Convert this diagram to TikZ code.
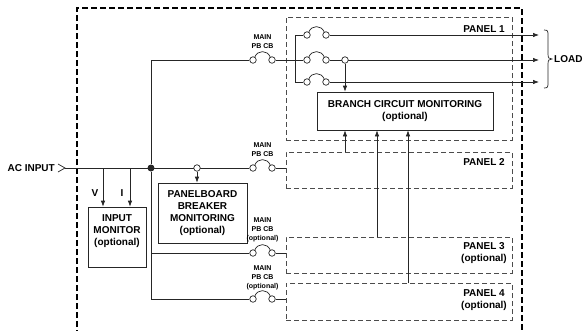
\documentclass[tikz,border=0pt]{standalone}
\usepackage{fontspec}
\setmainfont{Liberation Sans}
\usetikzlibrary{arrows.meta}

\newcommand{\cbreaker}[3]{%
  \node[term] (#1a) at (#2,#3) {};
  \node[term] (#1b) at (#2+19,#3) {};
  \draw[wire] (#1a.60) .. controls +(3,-7) and +(-3,-7) .. (#1b.120);
}

\begin{document}
\begin{tikzpicture}[x=1pt,y=-1pt,
  font=\bfseries\fontsize{10}{12}\selectfont,
  wire/.style={line width=0.7pt,black!85},
  sig/.style={line width=0.7pt,black!85,-{Latex[length=6pt,width=4.5pt]}},
  box/.style={draw=black!85,line width=0.7pt,align=center,inner sep=0pt},
  panel/.style={draw=black!70,dash pattern=on 5pt off 3pt,line width=0.6pt,inner sep=0pt},
  term/.style={circle,draw=black!85,fill=white,line width=0.7pt,minimum size=6.5pt,inner sep=0pt},
  cblabel/.style={font=\bfseries\fontsize{7}{9}\selectfont,align=center,inner sep=0pt}]

\useasboundingbox (0,0) rectangle (584,330);

\draw[line width=2.5pt,dash pattern=on 6pt off 3pt] (77,336) -- (77,8) -- (522,8) -- (522,336);

\node[panel,minimum width=226pt,minimum height=123pt] (p1) at (399,78.5) {};
\node[panel,minimum width=226pt,minimum height=36pt] (p2) at (399,170) {};
\node[panel,minimum width=226pt,minimum height=36pt] (p3) at (399,255) {};
\node[panel,minimum width=226pt,minimum height=37pt] (p4) at (399,301.5) {};

\node (p1t) at (484,29) {PANEL 1};
\node (p2t) at (484,162) {PANEL 2};
\node[align=center] (p3t) at (484,253) {PANEL 3\\(optional)};
\node[align=center] (p4t) at (484,300) {PANEL 4\\(optional)};

\node[box,minimum width=176pt,minimum height=38pt] (bcm) at (405,111) {BRANCH CIRCUIT MONITORING\\(optional)};
\node[box,minimum width=89pt,minimum height=60pt] (pbm) at (202.5,213) {PANELBOARD\\BREAKER\\MONITORING\\(optional)};
\node[box,minimum width=58pt,minimum height=60pt] (im) at (117,237) {};
\node[align=center,inner sep=0pt] (imt) at (117,231) {INPUT\\MONITOR\\(optional)};

\node[anchor=east,inner sep=0pt] (acin) at (55,168) {AC INPUT};
\coordinate (acp) at (65,168);
\draw[wire] (58,164) -- (acp) -- (58,172);

\cbreaker{cbA}{253}{60}
\cbreaker{cbB}{253}{168}
\cbreaker{cbC}{253}{253}
\cbreaker{cbD}{253}{299}
\cbreaker{q1}{307}{35}
\cbreaker{q2}{307}{60}
\cbreaker{q3}{307}{82}

\node[cblabel] (lA) at (262.5,41.5) {MAIN\\PB CB};
\node[cblabel] (lB) at (262.5,149.5) {MAIN\\PB CB};
\node[cblabel] (lC) at (262.5,229.5) {MAIN\\PB CB\\(optional)};
\node[cblabel] (lD) at (262.5,277.5) {MAIN\\PB CB\\(optional)};

\draw[wire] (acp) -- (cbBa.west);
\node[circle,fill=black!85,inner sep=0pt,minimum size=7pt] (jn) at (151,168) {};
\draw[wire] (jn) |- (cbAa.west);
\draw[wire] (jn) |- (cbCa.west);
\draw[wire] (jn) |- (cbDa.west);

\coordinate (vtap) at (103,168);
\coordinate (itap) at (130,168);
\draw[sig] (vtap) -- (vtap |- im.north);
\draw[sig] (itap) -- (itap |- im.north);
\node (vl) at (95,193) {V};
\node (il) at (122,193) {I};

\node[term] (s1) at (197,168) {};
\draw[sig] (s1) -- (s1 |- pbm.north);

\draw[wire] (cbBb.east) -- (cbBb -| p2.west);
\draw[wire] (cbCb.east) -- (cbCb -| p3.west);
\draw[wire] (cbDb.east) -- (cbDb -| p4.west);

\draw[wire] (cbAb.east) -- (q2a.west);
\draw[wire] (q1a.west) -- ++(-8,0) |- (q3a.west);

\coordinate (o1) at (539,35);
\coordinate (o2) at (539,60);
\coordinate (o3) at (539,82);
\draw[sig] (q1b.east) -- (o1);
\draw[sig] (q2b.east) -- (o2);
\draw[sig] (q3b.east) -- (o3);
\node[term] (s2) at (345,60) {};
\draw[sig] (s2) -- (s2 |- bcm.north);

\coordinate (f2) at (345,152);
\coordinate (f3) at (377,237);
\coordinate (f4) at (408,283);
\draw[sig] (f2) -- (f2 |- bcm.south);
\draw[sig] (f3) -- (f3 |- bcm.south);
\draw[sig] (f4) -- (f4 |- bcm.south);

\draw[wire] (544,30) .. controls (548,30) and (548,31) .. (548,36) -- (548,54)
  .. controls (548,58) and (549,59) .. (552,59)
  .. controls (549,59) and (548,60) .. (548,64) -- (548,82)
  .. controls (548,87) and (548,88) .. (544,88);
\node[anchor=west,inner sep=0pt] (load) at (554,59) {LOAD};

\end{tikzpicture}
\end{document}
